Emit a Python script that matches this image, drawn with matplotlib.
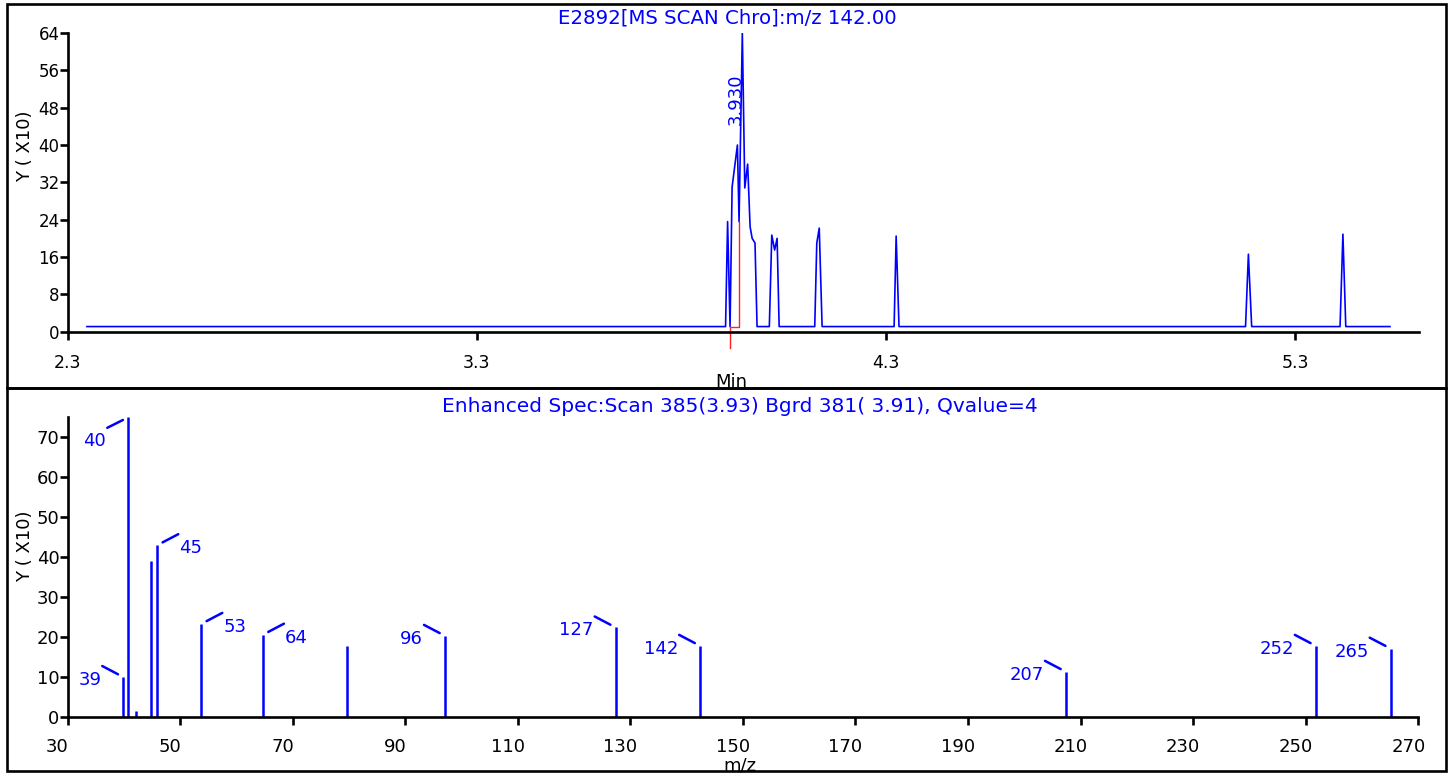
import matplotlib

matplotlib.use("Agg")
import matplotlib.pyplot as plt
import matplotlib.transforms as mtransforms
from matplotlib.patches import Rectangle

# ---- chromatogram, m/z 142 (time in min, intensity in x10) ----
chro_time = [2.347, 3.908, 3.913, 3.919, 3.924, 3.937, 3.941, 3.949, 3.955,
             3.962, 3.968, 3.973, 3.980, 3.985, 4.015, 4.021, 4.028, 4.034,
             4.039, 4.126, 4.131, 4.137, 4.144, 4.320, 4.325, 4.332, 5.179,
             5.186, 5.194, 5.410, 5.417, 5.424, 5.532]
chro_int = [1.1, 1.1, 23.6, 1.1, 31.0, 40.0, 23.6, 64.0, 30.8,
            35.9, 22.5, 20.0, 19.0, 1.1, 1.1, 20.7, 17.5, 20.0,
            1.1, 1.1, 19.0, 22.2, 1.1, 1.1, 20.5, 1.1, 1.1,
            16.6, 1.1, 1.1, 20.9, 1.1, 1.1]
# integration baseline marker
base_time = [3.919, 3.919, 3.941, 3.941]
base_int = [-3.5, 1.1, 1.1, 23.6]
peak_rt_label = "3.930"
peak_rt_pos = (3.933, 44.3)
chro_xticks = [2.3, 3.3, 4.3, 5.3]
chro_yticks = [0, 8, 16, 24, 32, 40, 48, 56, 64]

# ---- enhanced spectrum (m/z, intensity in x10) ----
spec_mz = [39.91, 40.80, 42.17, 44.83, 45.95, 53.77, 64.73, 79.66, 97.07,
           127.4, 142.4, 207.4, 251.8, 265.1]
spec_int = [10.0, 75.0, 1.5, 39.0, 43.0, 23.3, 20.6, 17.8, 20.3,
            22.4, 17.8, 11.3, 17.8, 17.1]
spec_labels = ["39", "40", "", "", "45", "53", "64", "", "96",
               "127", "142", "207", "252", "265"]
labels_right = {"45", "53", "64"}
labels_below = {"40"}
spec_xticks = list(range(30, 271, 20))
spec_yticks = list(range(0, 71, 10))

BLUE = "#0000ff"
W, H, DPI = 1450, 774, 100

plt.rcParams["font.family"] = "DejaVu Sans"
fig = plt.figure(figsize=(W / DPI, H / DPI), dpi=DPI)


def px_axes(x0, y0, x1, y1):
    return fig.add_axes([x0 / W, 1 - y1 / H, (x1 - x0) / W, (y1 - y0) / H])


def style_axes(ax, xsize, ysize, xpad):
    for side in ("top", "right"):
        ax.spines[side].set_visible(False)
    for side in ("left", "bottom"):
        ax.spines[side].set_linewidth(1.9)
    ax.tick_params(axis="both", direction="out", length=5.8, width=1.9,
                   color="black")
    ax.tick_params(axis="x", labelsize=xsize, pad=xpad)
    ax.tick_params(axis="y", labelsize=ysize, pad=0)


# frames
for y0, y1 in ((4, 388), (388, 771)):
    fig.add_artist(Rectangle((7 / W, 1 - y1 / H), (1446 - 7) / W, (y1 - y0) / H,
                             transform=fig.transFigure, fill=False,
                             lw=1.9, ec="black"))

# ---- top: chromatogram ----
ax1 = px_axes(67.7, 33.0, 1419.0, 331.7)
ax1.plot(chro_time, chro_int, color=BLUE, lw=1.2)
ax1.plot(base_time, base_int, color="#ff2020", lw=1.0, clip_on=False)
ax1.text(*peak_rt_pos, peak_rt_label, rotation=90, ha="center", va="bottom",
         color=BLUE, fontsize=13)
ax1.set_xlim(2.3, 5.603)
ax1.set_ylim(0, 64)
ax1.set_xticks(chro_xticks)
ax1.set_xticklabels([f"{v:.1f}" for v in chro_xticks])
ax1.set_yticks(chro_yticks)
style_axes(ax1, 12.5, 12, 10.5)
fig.text(727 / W, 1 - 18 / H, "E2892[MS SCAN Chro]:m/z 142.00", color=BLUE,
         fontsize=14.2, ha="center", va="center")
fig.text(731.7 / W, 1 - 382 / H, "Min", fontsize=13, ha="center", va="center")
fig.text(25 / W, 1 - 146 / H, "Y ( X10)", rotation=90, fontsize=13,
         ha="center", va="center")

# ---- bottom: spectrum ----
ax2 = px_axes(67.5, 417.3, 1418.3, 717.0)
ax2.vlines(spec_mz, 0, spec_int, color=BLUE, lw=1.8)
for mz, inten, lbl in zip(spec_mz, spec_int, spec_labels):
    if not lbl:
        continue
    sx = 1 if lbl in labels_right else -1
    if lbl in labels_below:
        lead, txt_y = (sx * 21, -10.5), -24
    else:
        lead, txt_y = (sx * 21, 11), -3
    ax2.annotate("", xy=(mz, inten), xytext=lead, textcoords="offset pixels",
                 arrowprops=dict(arrowstyle="-", color=BLUE, lw=1.8,
                                 shrinkA=0, shrinkB=4.3))
    ax2.annotate(lbl, xy=(mz, inten), xytext=(sx * 22, txt_y),
                 textcoords="offset pixels", ha="left" if sx > 0 else "right",
                 va="center", color=BLUE, fontsize=13)
ax2.set_xlim(30, 270)
ax2.set_ylim(0, 75)
ax2.set_xticks(spec_xticks)
ax2.set_yticks(spec_yticks)
style_axes(ax2, 13, 13, 9.5)
shift = mtransforms.ScaledTranslation(-10 / DPI, 0, fig.dpi_scale_trans)
for label in ax2.get_xticklabels():
    label.set_transform(label.get_transform() + shift)
fig.text(740 / W, 1 - 407 / H,
         "Enhanced Spec:Scan 385(3.93) Bgrd 381( 3.91), Qvalue=4",
         color=BLUE, fontsize=14.5, ha="center", va="center")
fig.text(740 / W, 1 - 766 / H, "m/z", fontsize=13, ha="center", va="center")
fig.text(25 / W, 1 - 546 / H, "Y ( X10)", rotation=90, fontsize=13,
         ha="center", va="center")

fig.savefig("out.png", dpi=DPI)
plt.close(fig)
